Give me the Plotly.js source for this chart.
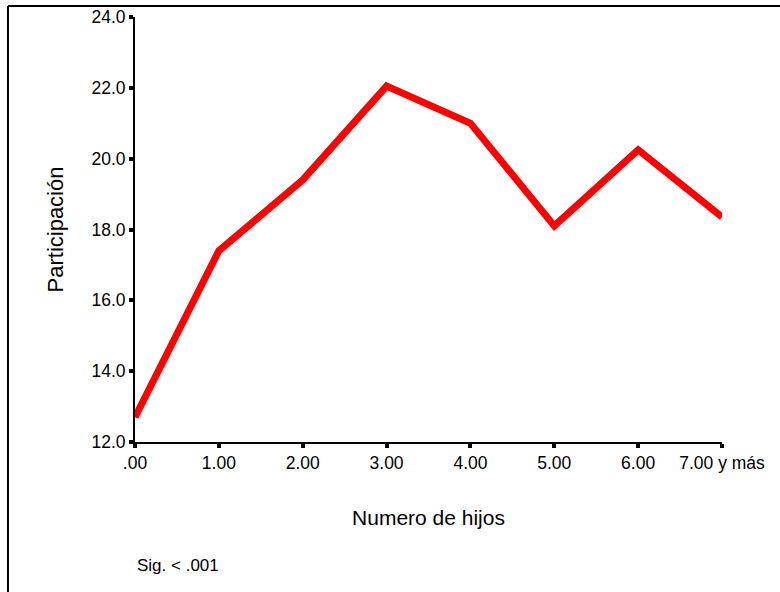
<!DOCTYPE html>
<html>
<head>
<meta charset="utf-8">
<script src="https://cdn.plot.ly/plotly-3.0.1.min.js"></script>
<style>html,body{margin:0;padding:0;background:#fff;}#chart{width:780px;height:592px;}</style>
</head>
<body>
<div id="chart"></div>
<script>
const categories = [".00", "1.00", "2.00", "3.00", "4.00", "5.00", "6.00", "7.00 y más"];
const positions = [0, 1, 2, 3, 4, 5, 6, 7];
const participacion = [12.7, 17.4, 19.4, 22.05, 21.0, 18.1, 20.25, 18.35];
const yTickVals = [12, 14, 16, 18, 20, 22, 24];
const yTickText = ["12.0", "14.0", "16.0", "18.0", "20.0", "22.0", "24.0"];

const font = "Liberation Sans, Arial, sans-serif";

const trace = {
  x: positions,
  y: participacion,
  type: "scatter",
  mode: "lines",
  line: {color: "#ff0000", width: 7},
  hoverinfo: "x+y"
};

const layout = {
  width: 780, height: 592,
  margin: {l: 135, r: 58, t: 17, b: 150},
  paper_bgcolor: "#ffffff",
  plot_bgcolor: "#ffffff",
  showlegend: false,
  font: {family: font, color: "#000"},
  xaxis: {
    range: [0, 7],
    tickvals: positions,
    ticktext: categories,
    showgrid: false, zeroline: false,
    showline: true, linecolor: "#000", linewidth: 2,
    ticks: "outside", ticklen: 4, tickwidth: 4, tickcolor: "#000",
    tickfont: {size: 17.5, family: font},
    automargin: false,
    title: {text: "Numero de hijos", font: {size: 21, family: font}, standoff: 38}
  },
  yaxis: {
    range: [12, 24],
    tickvals: yTickVals,
    ticktext: yTickText,
    showgrid: false, zeroline: false,
    showline: true, linecolor: "#000", linewidth: 2,
    ticks: "outside", ticklen: 4, tickwidth: 4, tickcolor: "#000",
    tickfont: {size: 17.5, family: font},
    automargin: false,
    title: {text: "Participación", font: {size: 22, family: font}, standoff: 22}
  },
  shapes: [
    {type: "line", xref: "paper", yref: "paper", x0: -0.2164, x1: 1.2, y0: 1.026, y1: 1.026, line: {color: "#000", width: 2}},
    {type: "line", xref: "paper", yref: "paper", x0: -0.2164, x1: -0.2164, y0: 1.026, y1: -0.36, line: {color: "#000", width: 2}}
  ],
  annotations: [
    {text: "Sig. < .001", xref: "paper", yref: "paper", x: 0.0, y: -0.29, xanchor: "left", yanchor: "middle", showarrow: false, font: {size: 17, family: font}}
  ]
};

Plotly.newPlot("chart", [trace], layout, {displayModeBar: false, staticPlot: true});
</script>
</body>
</html>
